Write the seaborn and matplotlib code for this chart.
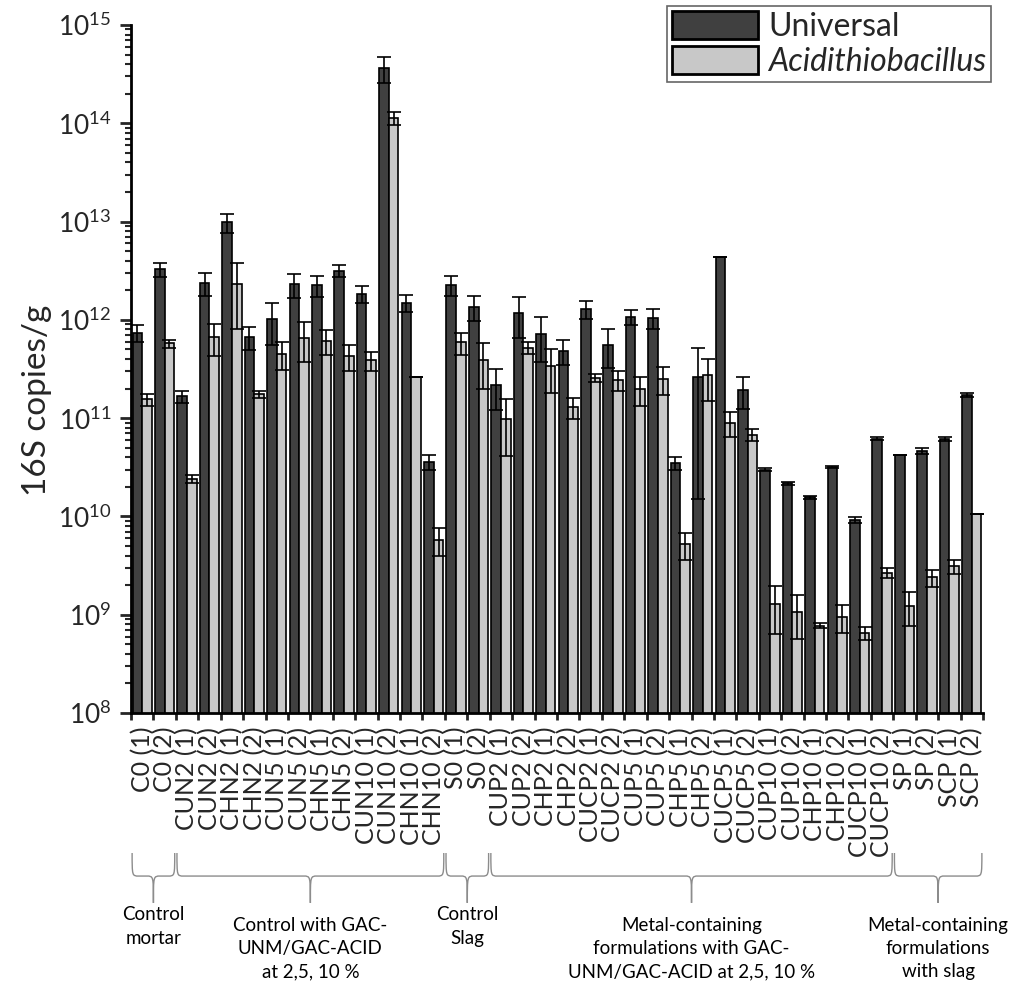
import matplotlib
matplotlib.use("Agg")
import numpy as np
import pandas as pd
import matplotlib.pyplot as plt
import matplotlib.transforms as mtransforms
from matplotlib.path import Path
from matplotlib.patches import PathPatch, Patch
from matplotlib.ticker import LogLocator, LogFormatterMathtext, NullFormatter, FixedLocator
import seaborn as sns

# ---- data: 16S rRNA gene copies per gram --------------------------------
samples = [
    "C0 (1)", "C0 (2)", "CUN2 (1)", "CUN2 (2)", "CHN2 (1)", "CHN2 (2)",
    "CUN5 (1)", "CUN5 (2)", "CHN5 (1)", "CHN5 (2)", "CUN10 (1)", "CUN10 (2)",
    "CHN10 (1)", "CHN10 (2)", "S0 (1)", "S0 (2)", "CUP2 (1)", "CUP2 (2)",
    "CHP2 (1)", "CHP2 (2)", "CUCP2 (1)", "CUCP2 (2)", "CUP5 (1)", "CUP5 (2)",
    "CHP5 (1)", "CHP5 (2)", "CUCP5 (1)", "CUCP5 (2)", "CUP10 (1)", "CUP10 (2)",
    "CHP10 (1)", "CHP10 (2)", "CUCP10 (1)", "CUCP10 (2)", "SP (1)", "SP (2)",
    "SCP (1)", "SCP (2)",
]

universal = [
    7.4e11, 3.26e12, 1.67e11, 2.38e12, 9.8e12, 6.7e11,
    1.02e12, 2.3e12, 2.26e12, 3.16e12, 1.84e12, 3.67e14,
    1.49e12, 3.58e10, 2.28e12, 1.36e12, 2.19e11, 1.17e12,
    7.2e11, 4.84e11, 1.29e12, 5.6e11, 1.07e12, 1.04e12,
    3.5e10, 2.65e11, 4.35e12, 1.92e11, 3.0e10, 2.18e10,
    1.56e10, 3.19e10, 9.2e9, 6.2e10, 4.17e10, 4.64e10,
    6.14e10, 1.73e11,
]
universal_err = [
    1.45e11, 0.54e12, 0.23e11, 0.64e12, 2.2e12, 1.8e11,
    0.46e12, 0.65e12, 0.56e12, 0.44e12, 0.36e12, 1.08e14,
    0.29e12, 0.59e10, 0.54e12, 0.38e12, 0.99e11, 0.52e12,
    3.5e11, 1.36e11, 0.26e12, 2.4e11, 0.19e12, 0.24e12,
    0.53e10, 2.5e11, 0.0, 0.68e11, 0.1e10, 0.08e10,
    0.06e10, 0.05e10, 0.7e9, 0.2e10, 0.0, 0.36e10,
    0.26e10, 0.09e11,
]

acidithiobacillus = [
    1.55e11, 5.75e11, 2.4e10, 6.7e11, 2.3e12, 1.76e11,
    4.5e11, 6.6e11, 6.1e11, 4.3e11, 3.87e11, 1.13e14,
    2.65e11, 5.8e9, 5.9e11, 3.86e11, 9.8e10, 5.2e11,
    3.4e11, 1.3e11, 2.57e11, 2.46e11, 1.98e11, 2.5e11,
    5.2e9, 2.74e11, 9.0e10, 6.8e10, 1.29e9, 1.07e9,
    7.76e8, 9.55e8, 6.5e8, 2.67e9, 1.24e9, 2.4e9,
    3.1e9, 1.05e10,
]
acidithiobacillus_err = [
    0.23e11, 0.55e11, 0.23e10, 2.4e11, 1.5e12, 0.14e11,
    1.4e11, 2.9e11, 1.7e11, 1.3e11, 0.87e11, 0.18e14,
    0.0, 1.8e9, 1.5e11, 1.9e11, 5.7e10, 0.74e11,
    1.6e11, 0.32e11, 0.23e11, 0.56e11, 0.65e11, 0.79e11,
    1.6e9, 1.24e11, 0.25e11, 0.9e10, 0.66e9, 0.51e9,
    0.4e8, 3.0e8, 1.0e8, 0.33e9, 0.48e9, 0.48e9,
    0.48e9, 0.0,
]

series_names = ["Universal", "Acidithiobacillus"]
series_colors = ["#404040", "#c8c8c8"]

group_labels = [
    "Control\nmortar",
    "Control with GAC-\nUNM/GAC-ACID\nat 2,5, 10 %",
    "Control\nSlag",
    "Metal-containing\nformulations with GAC-\nUNM/GAC-ACID at 2,5, 10 %",
    "Metal-containing\nformulations\nwith slag",
]
group_first = [0, 2, 14, 16, 34]
group_last = [1, 13, 15, 33, 37]

# ---- style ---------------------------------------------------------------
sns.set_style("ticks")
plt.rcParams["font.family"] = ["Lato", "DejaVu Sans"]
plt.rcParams["mathtext.fontset"] = "custom"
plt.rcParams["mathtext.rm"] = "Lato"
plt.rcParams["mathtext.it"] = "Lato:italic"
plt.rcParams["mathtext.bf"] = "Lato:bold"

n = len(samples)
df = pd.DataFrame({
    "sample": samples * 2,
    "copies": universal + acidithiobacillus,
    "target": [series_names[0]] * n + [series_names[1]] * n,
})

fig = plt.figure(figsize=(10.14, 9.91), dpi=100)
ax = fig.add_axes([131 / 1014, 1 - 713 / 991, (983 - 131) / 1014, (713 - 25) / 991])
ax.set_yscale("log")

sns.barplot(
    data=df, x="sample", y="copies", hue="target",
    order=samples, hue_order=series_names, palette=series_colors,
    edgecolor="black", linewidth=1.2, width=0.86, errorbar=None,
    legend=False, ax=ax, zorder=2,
)

# error bars on top of every bar, taken from the drawn patches
for container, errs in zip(ax.containers, [universal_err, acidithiobacillus_err]):
    xs = [p.get_x() + p.get_width() / 2 for p in container.patches]
    hs = [p.get_height() for p in container.patches]
    ax.errorbar(xs, hs, yerr=errs, fmt="none", ecolor="black",
                elinewidth=1.2, capsize=5, capthick=1.2, zorder=3)

ax.set_xlim(-0.5, n - 0.5)
ax.set_ylim(1e8, 1e15)

# y axis
ax.yaxis.set_major_locator(LogLocator(base=10, numticks=20))
ax.yaxis.set_minor_locator(LogLocator(base=10, subs=np.arange(2, 10), numticks=20))
ax.yaxis.set_major_formatter(LogFormatterMathtext())
ax.yaxis.set_minor_formatter(NullFormatter())
ax.tick_params(axis="y", which="major", length=8, width=2, labelsize=19, pad=6)
ax.tick_params(axis="y", which="minor", length=4, width=1.5)
ax.set_ylabel("16S copies/g", fontsize=24)
ax.yaxis.set_label_coords(-0.093, 0.455)

# x axis: labels at bar centres, tick marks between samples
ax.set_xticks(range(n))
ax.set_xticklabels(samples, rotation=90, fontsize=18)
ax.xaxis.set_minor_locator(FixedLocator(np.arange(-0.5, n, 1.0)))
ax.tick_params(axis="x", which="major", length=0, pad=10)
ax.tick_params(axis="x", which="minor", length=5, width=2)
ax.set_xlabel("")

for side in ["left", "bottom"]:
    ax.spines[side].set_linewidth(2)
    ax.spines[side].set_color("black")
sns.despine(ax=ax)

# legend
handles = [Patch(facecolor=c, edgecolor="black", linewidth=2) for c in series_colors]
leg = ax.legend(
    handles, series_names, loc="upper right",
    bbox_to_anchor=(991 / 1014, 1 - 6 / 991), bbox_transform=fig.transFigure,
    fontsize=23, handlelength=2.7, handleheight=1.0, handletextpad=0.3,
    borderpad=0.15, labelspacing=0.12, borderaxespad=0,
    frameon=True, fancybox=False, edgecolor="#666666", framealpha=1,
)
leg.get_frame().set_linewidth(1.2)
leg.get_texts()[1].set_fontstyle("italic")

# braces grouping the samples
trans = mtransforms.blended_transform_factory(ax.transData, ax.transAxes)
y_top, y_mid, y_tip = -0.2035, -0.237, -0.276
d = 0.3
for label, first, last in zip(group_labels, group_first, group_last):
    x0, x1 = first - 0.45, last + 0.45
    xm = (x0 + x1) / 2
    verts = [
        (x0, y_top), (x0, y_mid), (x0, y_mid), (x0 + d, y_mid),
        (xm - d, y_mid),
        (xm, y_mid), (xm, y_mid), (xm, y_tip),
        (xm, y_mid), (xm, y_mid), (xm + d, y_mid),
        (x1 - d, y_mid),
        (x1, y_mid), (x1, y_mid), (x1, y_top),
    ]
    codes = [Path.MOVETO, Path.CURVE4, Path.CURVE4, Path.CURVE4,
             Path.LINETO,
             Path.CURVE4, Path.CURVE4, Path.CURVE4,
             Path.CURVE4, Path.CURVE4, Path.CURVE4,
             Path.LINETO,
             Path.CURVE4, Path.CURVE4, Path.CURVE4]
    ax.add_patch(PathPatch(Path(verts, codes), transform=trans, facecolor="none",
                           edgecolor="#8c8c8c", linewidth=1.0, clip_on=False))
    y_text = -0.281 if label.count("\n") == 1 else -0.296
    ax.text(xm, y_text, label, transform=trans, ha="center", va="top",
            fontsize=13.5, linespacing=1.45, color="black")

fig.savefig("out.png", dpi=100)
